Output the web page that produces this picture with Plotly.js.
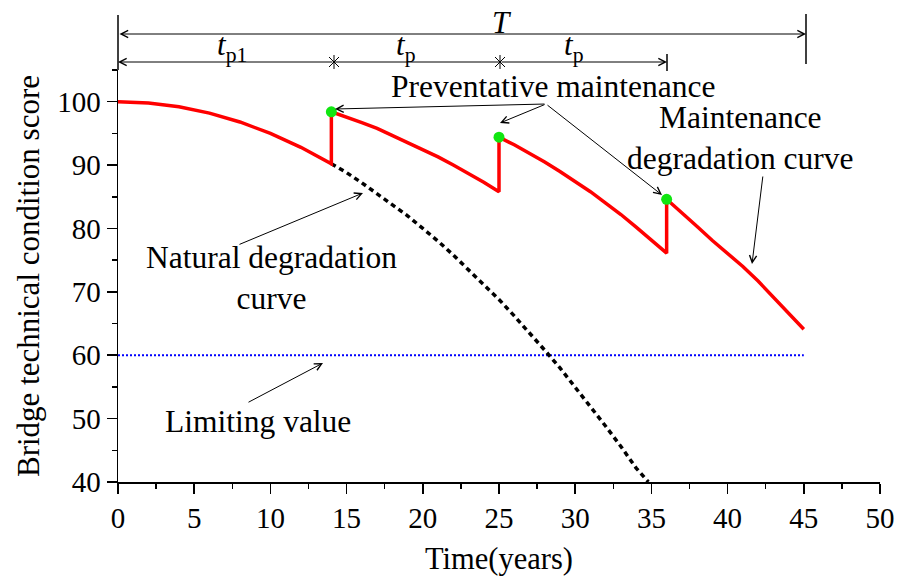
<!DOCTYPE html>
<html>
<head>
<meta charset="utf-8">
<script src="https://cdn.plot.ly/plotly-3.0.1.min.js"></script>
<style>html,body{margin:0;padding:0;background:#fff;}#chart{width:899px;height:583px;}</style>
</head>
<body>
<div id="chart"></div>
<script>
// ---- data ----
const maintYears = [0,2,4,6,8,10,12,14,
  14,15,16,17,18,19,20,21,22,23,24,25,
  25,26,27,28,29,30,31,32,33,34,35,36,
  36,37,38,39,40,41,42,43,44,45];
const maintScore = [100,99.8,99.2,98.2,96.8,95.0,92.8,90.2,
  98.4,97.6,96.7,95.8,94.7,93.6,92.5,91.3,90.0,88.7,87.3,85.8,
  94.4,93.2,91.9,90.5,89.0,87.4,85.8,84.0,82.2,80.2,78.2,76.1,
  84.6,82.5,80.3,78.1,76.0,74.0,71.7,69.2,66.7,64.1];
const naturalYears = [14,15,16,17,18,19,20,21,22,23,24,25,26,27,28,29,30,31,32,33,34,34.8];
const naturalScore = [90.2,88.8,87.2,85.5,83.8,82.0,80.0,78.0,75.8,73.5,71.2,68.8,66.2,63.6,60.8,58.0,55.0,52.0,48.8,45.6,42.2,40.0];
const pmYears = [14,25,36];
const pmScore = [98.4,94.4,84.6];
const limitYears = [0,45];
const limitScore = [60,60];
const xTicks = [0,5,10,15,20,25,30,35,40,45,50];
const yTicks = [40,50,60,70,80,90,100];
const xTitle = 'Time(years)';
const yTitle = 'Bridge technical condition score';

// ---- layout helpers (pixel -> paper) ----
const L = 118, R = 19, T = 70, B = 101, W = 899, H = 583;
const PW = W - L - R, PH = H - T - B;
const px = v => (v - L) / PW;
const py = v => (H - B - v) / PH;
const FONT = '"Liberation Serif", "Times New Roman", serif';

const traces = [
  {x: limitYears, y: limitScore, mode: 'lines', line: {color: '#0000ff', width: 1.8, dash: '2px,2px'}, hoverinfo: 'skip'},
  {x: naturalYears, y: naturalScore, mode: 'lines', line: {color: '#000', width: 3.5, dash: '5px,4px'}, hoverinfo: 'skip'},
  {x: maintYears, y: maintScore, mode: 'lines', line: {color: '#ff0000', width: 3.5}, hoverinfo: 'skip'},
  {x: pmYears, y: pmScore, mode: 'markers', marker: {color: '#11e611', size: 11}, hoverinfo: 'skip'}
];

function arrow(x1, y1, x2, y2, opts) {
  // tail (x1,y1) -> head (x2,y2), in pixels
  return Object.assign({
    xref: 'paper', yref: 'paper', axref: 'pixel', ayref: 'pixel',
    x: px(x2), y: py(y2), ax: x1 - x2, ay: y1 - y2,
    text: '', showarrow: true, arrowhead: 5, arrowsize: 1.4, arrowwidth: 1,
    arrowcolor: '#000', standoff: 0, startstandoff: 0
  }, opts || {});
}
function label(text, x, y, size, opts) {
  return Object.assign({
    xref: 'paper', yref: 'paper', x: px(x), y: py(y), text: text, showarrow: false,
    xanchor: 'center', yanchor: 'middle', font: {family: FONT, size: size, color: '#000'}
  }, opts || {});
}

const AS = 31.5;
const annotations = [
  // dimension lines
  arrow(118, 34, 806, 34, {arrowside: 'end+start'}),
  arrow(334, 62, 118, 62),
  arrow(500, 62, 667, 62),
  label('<i>T</i>', 502, 22, 31),
  label('<i>t</i><sub>p1</sub>', 232, 47, 31),
  label('<i>t</i><sub>p</sub>', 405, 47, 31),
  label('<i>t</i><sub>p</sub>', 573, 47, 31),
  // preventative maintenance
  label('Preventative maintenance', 553, 86, AS),
  arrow(546, 104, 335, 109),
  arrow(546, 104, 500, 123),
  arrow(546, 104, 662, 195),
  // maintenance degradation curve
  label('Maintenance<br>degradation curve', 740, 138, AS),
  arrow(763, 175, 752, 264),
  // natural
  label('Natural degradation<br>curve', 271, 278, AS),
  arrow(238, 245, 363, 193),
  // limiting
  label('Limiting value', 258, 421, AS),
  arrow(247, 403, 323, 363)
];

const shapes = [
  {type: 'line', xref: 'paper', yref: 'paper', x0: px(118), x1: px(118), y0: py(15), y1: 1, line: {color: '#000', width: 1.5}},
  {type: 'line', xref: 'paper', yref: 'paper', x0: px(806), x1: px(806), y0: py(14), y1: py(64), line: {color: '#000', width: 1.5}},
  {type: 'line', xref: 'paper', yref: 'paper', x0: px(334), x1: px(500), y0: py(62), y1: py(62), line: {color: '#000', width: 1}},
  {type: 'line', xref: 'paper', yref: 'paper', x0: px(667), x1: px(667), y0: py(54), y1: py(71), line: {color: '#000', width: 1.5}},
  // asterisks
  ...[334, 500].flatMap(cx => [
    {type: 'line', xref: 'paper', yref: 'paper', x0: px(cx - 5), x1: px(cx + 5), y0: py(62 - 5), y1: py(62 + 5), line: {color: '#000', width: 1}},
    {type: 'line', xref: 'paper', yref: 'paper', x0: px(cx - 5), x1: px(cx + 5), y0: py(62 + 5), y1: py(62 - 5), line: {color: '#000', width: 1}},
    {type: 'line', xref: 'paper', yref: 'paper', x0: px(cx), x1: px(cx), y0: py(55), y1: py(69), line: {color: '#000', width: 1}}
  ])
];

const axisCommon = {
  showgrid: false, zeroline: false, showline: true, linecolor: '#000', linewidth: 1.5,
  ticks: 'outside', ticklen: 10, tickwidth: 1.5, tickcolor: '#000',
  tickfont: {family: FONT, size: 29, color: '#000'}
};

const layout = {
  width: W, height: H,
  margin: {l: L, r: R, t: T, b: B, pad: 0},
  paper_bgcolor: '#fff', plot_bgcolor: '#fff',
  showlegend: false,
  font: {family: FONT, color: '#000'},
  xaxis: Object.assign({}, axisCommon, {
    range: [0, 50], tickmode: 'array', tickvals: xTicks, ticktext: xTicks.map(String),
    minor: {ticks: 'outside', ticklen: 5, tickwidth: 1.5, tickcolor: '#000', dtick: 2.5, tick0: 0, showgrid: false},
    title: {text: xTitle, font: {family: FONT, size: 30.5, color: '#000'}, standoff: 14}
  }),
  yaxis: Object.assign({}, axisCommon, {
    range: [40, 105], tickmode: 'array', tickvals: yTicks, ticktext: yTicks.map(String),
    minor: {ticks: 'outside', ticklen: 5, tickwidth: 1.5, tickcolor: '#000', dtick: 5, tick0: 0, showgrid: false},
    title: {text: yTitle, font: {family: FONT, size: 31, color: '#000'}, standoff: 8}
  }),
  annotations: annotations,
  shapes: shapes
};

Plotly.newPlot('chart', traces, layout, {staticPlot: true, displayModeBar: false});
</script>
</body>
</html>
